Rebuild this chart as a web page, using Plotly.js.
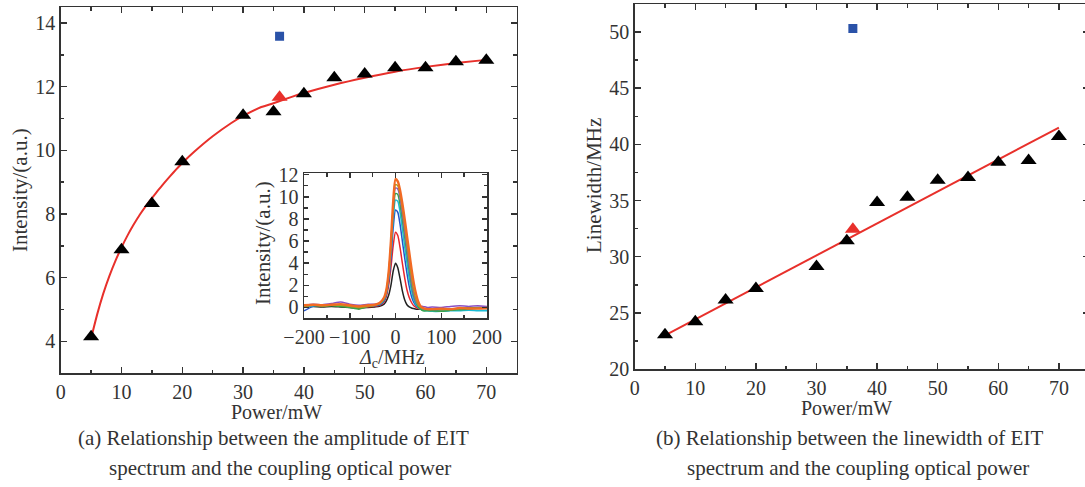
<!DOCTYPE html>
<html>
<head>
<meta charset="utf-8">
<script src="https://cdn.plot.ly/plotly-3.0.1.min.js"></script>
<style>
html,body{margin:0;padding:0;overflow:hidden;background:#fff;}
#chart{width:1090px;height:487px;}
</style>
</head>
<body>
<div id="chart"></div>
<script>
// ---------- Data: panel (a) amplitude vs power ----------
const powerA = [5, 10, 15, 20, 30, 35, 40, 45, 50, 55, 60, 65, 70];
const intensityA = [4.15, 6.88, 8.33, 9.64, 11.1, 11.21, 11.78, 12.28, 12.4, 12.59, 12.59, 12.78, 12.83];
const redPowerA = [36];
const redIntensityA = [11.67];
const bluePowerA = [36];
const blueIntensityA = [13.58];
const fitPowerA = [5, 6, 7, 8, 9, 10, 11, 12, 13, 14, 15, 16, 17, 18, 19, 20, 22, 25, 28, 30, 33, 35, 38, 40, 45, 50, 55, 60, 65, 70];
const fitIntensityA = [4.1, 4.85, 5.5, 6.05, 6.53, 6.95, 7.33, 7.67, 7.98, 8.25, 8.5, 8.74, 8.97, 9.19, 9.4, 9.6, 9.96, 10.44, 10.85, 11.08, 11.36, 11.48, 11.68, 11.8, 12.06, 12.28, 12.47, 12.62, 12.74, 12.84];

// ---------- Data: panel (b) linewidth vs power ----------
const powerB = [5, 10, 15, 20, 30, 35, 40, 45, 50, 55, 60, 65, 70];
const linewidthB = [23.05, 24.2, 26.15, 27.16, 29.12, 31.43, 34.82, 35.3, 36.8, 37.05, 38.41, 38.56, 40.7];
const redPowerB = [36];
const redLinewidthB = [32.44];
const bluePowerB = [36];
const blueLinewidthB = [50.32];
const fitPowerB = [5, 70];
const fitLinewidthB = [23.0, 41.5];

// ---------- Data: inset spectra ----------
const detuning = [-200,-180,-160,-140,-120,-100,-80,-60,-45,-35,-25,-20,-15,-10,-5,0,5,10,15,20,25,30,35,40,45,50,55,60,70,80,100,120,140,160,180,200];
const specBlack  = [0.1,0.1,0.05,0.1,0.05,0.0,-0.05,0.0,0.05,0.1,0.3,0.6,1.1,2.0,3.3,4.0,3.6,2.6,1.5,0.7,0.25,0.05,-0.05,-0.1,-0.15,-0.15,-0.15,-0.2,-0.2,-0.25,-0.2,-0.15,-0.1,-0.05,0.0,0.0];
const specRed    = [0.2,0.25,0.15,0.2,0.15,0.05,0.0,0.05,0.1,0.2,0.5,1.0,2.0,3.6,5.6,6.8,6.5,5.4,4.0,2.7,1.6,0.9,0.45,0.15,0.0,-0.1,-0.15,-0.2,-0.2,-0.25,-0.3,-0.2,-0.15,-0.1,-0.05,0.0];
const specBlue   = [-0.3,0.1,0.2,0.25,0.2,0.1,0.05,0.1,0.15,0.25,0.6,1.2,2.4,4.4,7.2,8.8,8.6,7.5,6.0,4.5,3.1,1.9,1.0,0.45,0.15,0.0,-0.1,-0.15,-0.2,-0.25,-0.3,-0.25,-0.2,-0.1,-0.05,-0.1];
const specCyan   = [0.0,0.15,0.2,0.2,0.25,0.15,0.05,0.15,0.2,0.3,0.7,1.3,2.7,5.0,8.0,9.7,9.6,8.6,7.1,5.5,4.0,2.6,1.5,0.7,0.25,0.0,-0.15,-0.25,-0.3,-0.35,-0.35,-0.3,-0.3,-0.25,-0.3,-0.3];
const specGreen  = [0.15,0.2,0.1,0.15,0.1,0.0,-0.15,0.1,0.2,0.35,0.75,1.4,2.9,5.4,8.5,10.3,10.2,9.3,7.9,6.4,4.8,3.3,2.0,1.0,0.4,0.05,-0.15,-0.3,-0.3,-0.3,-0.35,-0.25,-0.2,-0.15,-0.1,-0.1];
const specPurple = [0.2,0.3,0.25,0.35,0.5,0.3,0.2,0.3,0.3,0.4,0.8,1.5,3.0,5.7,9.0,10.8,10.7,9.9,8.5,6.9,5.3,3.7,2.3,1.2,0.5,0.2,0.1,0.1,0.0,0.05,0.0,0.1,0.15,0.1,0.15,0.1];
const specOlive  = [0.1,0.2,0.15,0.2,0.2,0.1,0.0,0.1,0.2,0.35,0.8,1.5,3.1,5.8,9.2,11.1,11.0,10.2,8.9,7.4,5.8,4.2,2.7,1.5,0.7,0.2,0.0,-0.1,-0.15,-0.15,-0.2,-0.15,-0.1,-0.05,-0.05,0.0];
const specOrange = [0.2,0.25,0.2,0.25,0.3,0.2,0.1,0.2,0.25,0.4,0.9,1.6,3.2,6.0,9.6,11.6,11.4,10.6,9.4,8.0,6.5,5.0,3.5,2.2,1.2,0.5,0.1,-0.05,-0.15,-0.15,-0.1,-0.15,-0.05,-0.1,-0.1,-0.05];
const spectra = [specBlack, specRed, specBlue, specCyan, specGreen, specPurple, specOlive, specOrange];
const spectraColors = ['#222222','#e8262b','#2454c8','#1bbcd6','#3aa34a','#8a4fc2','#a6a020','#f26a24'];

// ---------- Text ----------
const captionA1 = '(a) Relationship between the amplitude of EIT';
const captionA2 = 'spectrum and the coupling optical power';
const captionB1 = '(b) Relationship between the linewidth of EIT';
const captionB2 = 'spectrum and the coupling optical power';

// ---------- Layout helpers ----------
const W = 1090, H = 487;
const fx = p => p / W;
const fy = p => 1 - p / H;
const FONT = '"Liberation Serif", "Times New Roman", "DejaVu Serif", serif';
const INK = '#333333';

function axisBase(extra) {
  return Object.assign({
    showline: true, linecolor: INK, linewidth: 1.5, mirror: 'ticks',
    ticks: 'inside', ticklen: 6, tickwidth: 1.5, tickcolor: INK,
    showgrid: false, zeroline: false, fixedrange: true,
    tickfont: {family: FONT, size: 20, color: INK}
  }, extra);
}
function minor(d) { return {dtick: d, ticks: 'inside', ticklen: 3.5, tickwidth: 1.5, tickcolor: INK, showgrid: false}; }

const traces = [];
// Panel (a)
traces.push({x: fitPowerA, y: fitIntensityA, mode: 'lines', line: {color: '#e8302b', width: 2, shape: 'spline', smoothing: 0.5}, xaxis: 'x', yaxis: 'y'});
traces.push({x: powerA, y: intensityA, mode: 'markers', marker: {symbol: 'triangle-up', size: 14, color: '#000'}, xaxis: 'x', yaxis: 'y'});
traces.push({x: redPowerA, y: redIntensityA, mode: 'markers', marker: {symbol: 'triangle-up', size: 14, color: '#e8302b'}, xaxis: 'x', yaxis: 'y'});
traces.push({x: bluePowerA, y: blueIntensityA, mode: 'markers', marker: {symbol: 'square', size: 9, color: '#2a52a8'}, xaxis: 'x', yaxis: 'y'});
// Panel (b)
traces.push({x: fitPowerB, y: fitLinewidthB, mode: 'lines', line: {color: '#e8302b', width: 2}, xaxis: 'x2', yaxis: 'y2'});
traces.push({x: powerB, y: linewidthB, mode: 'markers', marker: {symbol: 'triangle-up', size: 14, color: '#000'}, xaxis: 'x2', yaxis: 'y2'});
traces.push({x: redPowerB, y: redLinewidthB, mode: 'markers', marker: {symbol: 'triangle-up', size: 14, color: '#e8302b'}, xaxis: 'x2', yaxis: 'y2'});
traces.push({x: bluePowerB, y: blueLinewidthB, mode: 'markers', marker: {symbol: 'square', size: 9, color: '#2a52a8'}, xaxis: 'x2', yaxis: 'y2'});
// Inset
spectra.forEach((s, i) => {
  traces.push({x: detuning, y: s, mode: 'lines', line: {color: spectraColors[i], width: i === spectra.length - 1 ? 2.4 : 1.5, shape: 'spline', smoothing: 0.6}, xaxis: 'x3', yaxis: 'y3'});
});

const ann = (text, px, py, size, extra) => Object.assign({
  text: text, xref: 'paper', yref: 'paper', x: fx(px), y: fy(py),
  xanchor: 'center', yanchor: 'middle', showarrow: false,
  font: {family: FONT, size: size, color: INK}
}, extra || {});

const layout = {
  width: W, height: H, autosize: false,
  margin: {l: 0, r: 0, t: 0, b: 0, pad: 0},
  paper_bgcolor: '#fff', plot_bgcolor: '#fff',
  showlegend: false,
  font: {family: FONT, color: INK},
  xaxis: axisBase({domain: [fx(60.7), fx(516.7)], range: [0, 75], dtick: 10, tick0: 0, minor: minor(5), anchor: 'y'}),
  yaxis: axisBase({domain: [fy(373.3), fy(7)], range: [3, 14.5], dtick: 2, tick0: 0, minor: minor(1), anchor: 'x'}),
  xaxis2: axisBase({domain: [fx(634.7), fx(1089.2)], range: [0, 75], dtick: 10, tick0: 0, minor: minor(5), anchor: 'y2'}),
  yaxis2: axisBase({domain: [fy(369), fy(4)], range: [20, 52.5], dtick: 5, tick0: 0, minor: minor(2.5), anchor: 'x2'}),
  xaxis3: axisBase({domain: [fx(304), fx(487)], range: [-200, 200], dtick: 100, tick0: 0, minor: minor(50), anchor: 'y3', ticklen: 5}),
  yaxis3: axisBase({domain: [fy(318), fy(173)], range: [-0.95, 12.15], dtick: 2, tick0: 0, minor: minor(1), anchor: 'x3', ticklen: 5}),
  annotations: [
    ann('Intensity/(a.u.)', 20, 190, 21, {textangle: -90}),
    ann('Power/mW', 276, 412, 20),
    ann('Linewidth/MHz', 594, 186, 21, {textangle: -90}),
    ann('Power/mW', 846, 408, 20),
    ann('Intensity/(a.u.)', 263, 243, 21, {textangle: -90}),
    ann('<i>Δ</i><sub>c</sub>/MHz', 392, 358, 20),
    ann(captionA1, 273.5, 438, 21),
    ann(captionA2, 280, 468, 21),
    ann(captionB1, 849, 438, 21),
    ann(captionB2, 858, 468, 21)
  ]
};

Plotly.newPlot('chart', traces, layout, {displayModeBar: false, staticPlot: true});
</script>
</body>
</html>
